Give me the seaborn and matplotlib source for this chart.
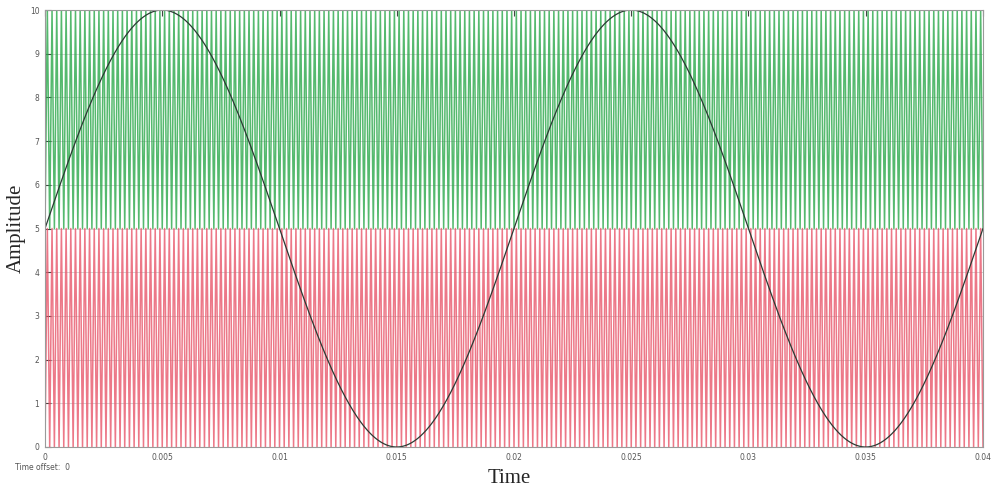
import numpy as np
import pandas as pd
import matplotlib
matplotlib.use("Agg")
import matplotlib.pyplot as plt
import seaborn as sns

# ---- signal parameters ----
t_start, t_end = 0.0, 0.04
mod_freq = 50.0          # modulating sine: period 0.02 s
mod_amp = 5.0
mod_offset = 5.0
carrier_freq = 5000.0    # ~200 triangle cycles over 0.04 s
upper_band = [5.0, 10.0]  # green carrier
lower_band = [0.0, 5.0]   # red carrier
x_ticks = [0, 0.005, 0.01, 0.015, 0.02, 0.025, 0.03, 0.035, 0.04]
x_tick_labels = ["0", "0.005", "0.01", "0.015", "0.02", "0.025", "0.03", "0.035", "0.04"]
y_ticks = [0, 1, 2, 3, 4, 5, 6, 7, 8, 9, 10]

# triangle carriers: vertices every half carrier period
n_half = int(round((t_end - t_start) * carrier_freq * 2))
tv = np.linspace(t_start, t_end, n_half + 1)
phase = np.arange(n_half + 1) % 2
green = pd.DataFrame({"t": tv, "v": np.where(phase == 0, upper_band[0], upper_band[1])})
red = pd.DataFrame({"t": tv, "v": np.where(phase == 0, lower_band[0], lower_band[1])})

ts = np.linspace(t_start, t_end, 2000)
sine = pd.DataFrame({"t": ts, "v": mod_offset + mod_amp * np.sin(2 * np.pi * mod_freq * ts)})

sns.set_style("white")
plt.rcParams["font.family"] = ["DejaVu Sans"]

fig = plt.figure(figsize=(9.93, 4.91), dpi=100)
ax = fig.add_axes([45 / 993, 1 - 447 / 491, (983 - 45) / 993, (447 - 10) / 491])

for yv in y_ticks:
    ax.axhline(yv, color="#9a9a9a", lw=0.6, alpha=0.5, zorder=0)

sns.lineplot(data=green, x="t", y="v", ax=ax, color="#2aa84a", lw=1.1, alpha=0.8,
             estimator=None, sort=False)
sns.lineplot(data=red, x="t", y="v", ax=ax, color="#e8566a", lw=1.1, alpha=0.8,
             estimator=None, sort=False)
sns.lineplot(data=sine, x="t", y="v", ax=ax, color="#2b3a33", lw=0.9,
             estimator=None, sort=False)

ax.set_xlim(t_start, t_end)
ax.set_ylim(0, 10)
ax.set_xticks(x_ticks)
ax.set_xticklabels(x_tick_labels)
ax.set_yticks(y_ticks)
ax.tick_params(axis="both", direction="in", length=4, width=0.8, color="#444444",
               labelsize=5.5, labelcolor="#555555", pad=4)
ax.tick_params(axis="x", top=True)
ax.tick_params(axis="y", left=True)
for s in ax.spines.values():
    s.set_color("#9a9a9a")
    s.set_linewidth(0.8)

ax.set_xlabel("Time", family="Liberation Serif", fontsize=15)
ax.xaxis.set_label_coords((509 - 45) / 938, -(469 - 447) / 437)
ax.set_ylabel("Amplitude", family="Liberation Serif", fontsize=15)
ax.yaxis.set_label_coords(-(45 - 26) / 938, 0.5)

fig.text(15 / 993, 1 - 467 / 491, "Time offset:  0", fontsize=5.5, color="#555555",
         va="center", ha="left")

fig.savefig("out.png", dpi=100)
